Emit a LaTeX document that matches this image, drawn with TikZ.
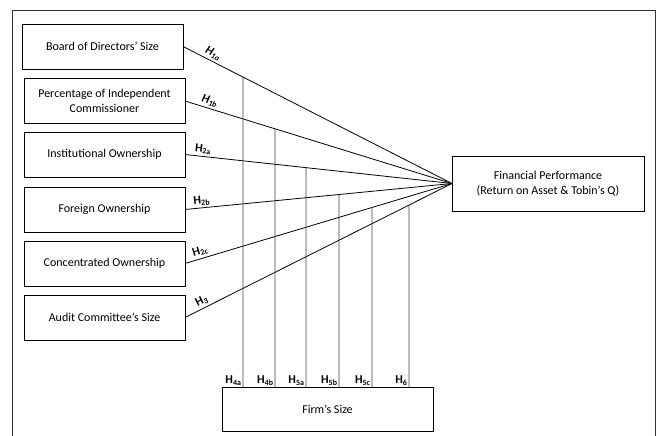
\documentclass[tikz,border=0pt]{standalone}
\usepackage{fontspec}
\setmainfont{Carlito}
\usetikzlibrary{positioning, calc}

\begin{document}
\begin{tikzpicture}[x=1pt, y=-1pt,
    box/.style={draw, line width=0.9pt, minimum width=161pt, minimum height=45pt,
      align=center, outer sep=0pt, font=\fontsize{12}{14.5}\selectfont},
    link/.style={line width=0.8pt},
    vline/.style={line width=0.9pt, black!75},
    hlab/.style={sloped, above, inner sep=2pt, text=black, font=\bfseries\fontsize{12}{12}\selectfont},
    hbot/.style={anchor=south east, inner sep=1pt, text=black, font=\bfseries\fontsize{12}{12}\selectfont}]
      \useasboundingbox (0,0) rectangle (659,436);
      \draw[line width=0.7pt, black!80] (12,440) -- (12,10) -- (655,10) -- (655,440);
      % variables
      \node[box] (bod) at (102.5,46.5) {Board of Directors’ Size};
      \node[box] (pic) at (104.5,101) {Percentage of Independent\\Commissioner};
      \node[box] (io) at (104.5,154.5) {Institutional Ownership};
      \node[box] (fo) at (104.5,209.5) {Foreign Ownership};
      \node[box] (co) at (104.5,263.5) {Concentrated Ownership};
      \node[box] (acs) at (104.5,317.5) {Audit Committee’s Size};
      \node[box, minimum width=192pt, minimum height=55pt] (fp) at (548,183.5) {Financial Performance\\(Return on Asset \& Tobin’s Q)};
      \node[box, minimum width=211pt, minimum height=44pt] (firm) at (327.5,409) {Firm’s Size};
      % hypotheses
      \draw[link] (bod.east) -- node[hlab, pos=0.1] {\textit{H}\textsubscript{\textit{1a}}} (fp.west);
      \draw[link] (pic.east) -- node[hlab, pos=0.085] {\textit{H}\textsubscript{\textit{1b}}} (fp.west);
      \draw[link] (io.east) -- node[hlab, pos=0.065] {H\textsubscript{2a}} (fp.west);
      \draw[link] (fo.east) -- node[hlab, pos=0.065] {H\textsubscript{2b}} (fp.west);
      \draw[link] (co.east) -- node[hlab, pos=0.065] {H\textsubscript{2c}} (fp.west);
      \draw[link] (acs.east) -- node[hlab, pos=0.075] {H\textsubscript{3}} (fp.west);
      % moderation
      \foreach \x/\src/\lab in {243/bod/4a, 275/pic/4b, 306/io/5a, 339/fo/5b, 372/co/5c, 409/acs/6} {
        \coordinate (top) at (intersection of \src.east--fp.west and \x,0--\x,436);
        \draw[vline] (\x,0 |- firm.north) node[hbot] {H\textsubscript{\lab}} -- (top);
      }
\end{tikzpicture}
\end{document}
